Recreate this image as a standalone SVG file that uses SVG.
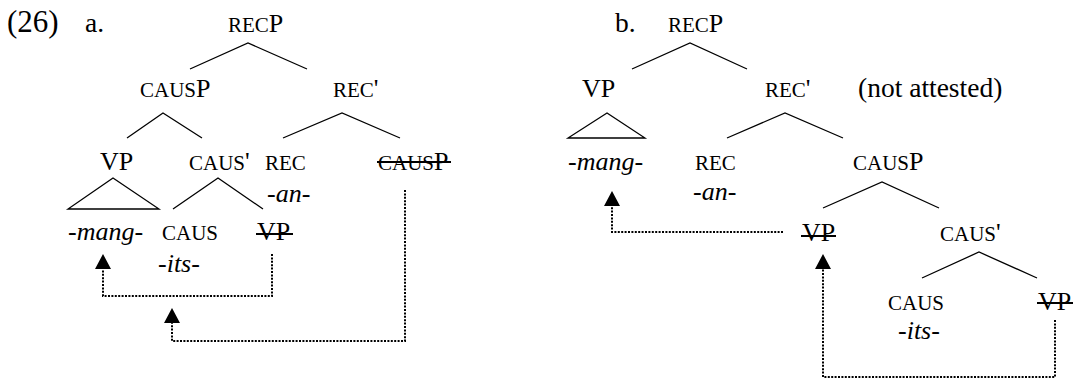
<svg xmlns="http://www.w3.org/2000/svg" width="1074" height="378" viewBox="0 0 1074 378" font-family="Liberation Serif, Times New Roman, serif">
<style>
.b{font-size:26px;}
.h{font-size:27.5px;}
.sc{font-size:21px;}
.i{font-size:26px;font-style:italic;}
.br{stroke:#000;stroke-width:1.3;fill:none;}
.dot{stroke:#000;stroke-width:2;fill:none;stroke-dasharray:2 1.4;marker-end:url(#ah);}
.st{stroke:#000;stroke-width:2;}
</style>
<defs>
<marker id="ah" viewBox="0 -8 15 16" refX="0" refY="0" markerWidth="15" markerHeight="16" markerUnits="userSpaceOnUse" orient="auto">
<path d="M0,-8 L15,0 L0,8 Z" fill="#000"/>
</marker>
</defs>
<rect width="1074" height="378" fill="#fff"/>

<g id="labels">
<text x="7" y="32" font-size="31">(26)</text>
<text class="h" x="85" y="32">a.</text>
<text class="h" x="615" y="32">b.</text>
<text class="h" x="858" y="97">(not attested)</text>
</g>

<g id="a-recp"><text x="228" y="32"><tspan class="sc">REC</tspan><tspan class="b">P</tspan></text></g>
<g id="a-causp"><text x="140" y="97"><tspan class="sc">CAUS</tspan><tspan class="b">P</tspan></text></g>
<g id="a-recbar"><text x="333" y="97"><tspan class="sc">REC</tspan><tspan class="b">'</tspan></text></g>
<g id="a-vp"><text class="b" x="100" y="170">VP</text><polygon class="br" points="113,178 68,209 159,209"/></g>
<g id="a-causbar"><text x="189" y="170"><tspan class="sc">CAUS</tspan><tspan class="b">'</tspan></text></g>
<g id="a-rec"><text class="sc" x="265" y="170">REC</text><text class="i" x="267" y="202">-an-</text></g>
<g id="a-causp2"><text x="378" y="170"><tspan class="sc">CAUS</tspan><tspan class="b">P</tspan></text><line class="st" x1="377" y1="162" x2="451" y2="162"/></g>
<g id="a-mang"><text class="i" x="68" y="240">-mang-</text></g>
<g id="a-caus"><text class="sc" x="162" y="240">CAUS</text><text class="i" x="158" y="272">-its-</text></g>
<g id="a-vp2"><text class="b" x="257" y="240">VP</text><line class="st" x1="256" y1="234" x2="293" y2="234"/></g>

<g id="b-recp"><text x="668" y="32"><tspan class="sc">REC</tspan><tspan class="b">P</tspan></text></g>
<g id="b-vp"><text class="b" x="582" y="97">VP</text><polygon class="br" points="607,113 568,138 645,138"/></g>
<g id="b-recbar"><text x="765" y="97"><tspan class="sc">REC</tspan><tspan class="b">'</tspan></text></g>
<g id="b-mang"><text class="i" x="568" y="170">-mang-</text></g>
<g id="b-rec"><text class="sc" x="695" y="170">REC</text><text class="i" x="693" y="200">-an-</text></g>
<g id="b-causp"><text x="853" y="170"><tspan class="sc">CAUS</tspan><tspan class="b">P</tspan></text></g>
<g id="b-vp2"><text class="b" x="802" y="241">VP</text><line class="st" x1="801" y1="236" x2="836" y2="236"/></g>
<g id="b-causbar"><text x="940" y="241"><tspan class="sc">CAUS</tspan><tspan class="b">'</tspan></text></g>
<g id="b-caus"><text class="sc" x="888" y="310">CAUS</text><text class="i" x="898" y="339">-its-</text></g>
<g id="b-vp3"><text class="b" x="1038" y="310">VP</text><line class="st" x1="1037" y1="303" x2="1073" y2="303"/></g>

<g id="connectors">
<path class="br" d="M190,69 L248,43 L307,69"/>
<path class="br" d="M127,138 L163,113 L202,138"/>
<path class="br" d="M283,138 L342,113 L400,138"/>
<path class="br" d="M173,209 L218,178 L263,209"/>
<path class="br" d="M632,69 L690,43 L747,69"/>
<path class="br" d="M727,138 L785,113 L843,138"/>
<path class="br" d="M823,208 L882,182 L939,208"/>
<path class="br" d="M922,278 L979,252 L1037,278"/>
<path class="dot" d="M272,254 V296 H103 V269"/>
<path class="dot" d="M405,190 V341 H172 V323"/>
<path class="dot" d="M783,232 H612 V206"/>
<path class="dot" d="M1055,320 V377 H823 V269"/>
</g>
</svg>
